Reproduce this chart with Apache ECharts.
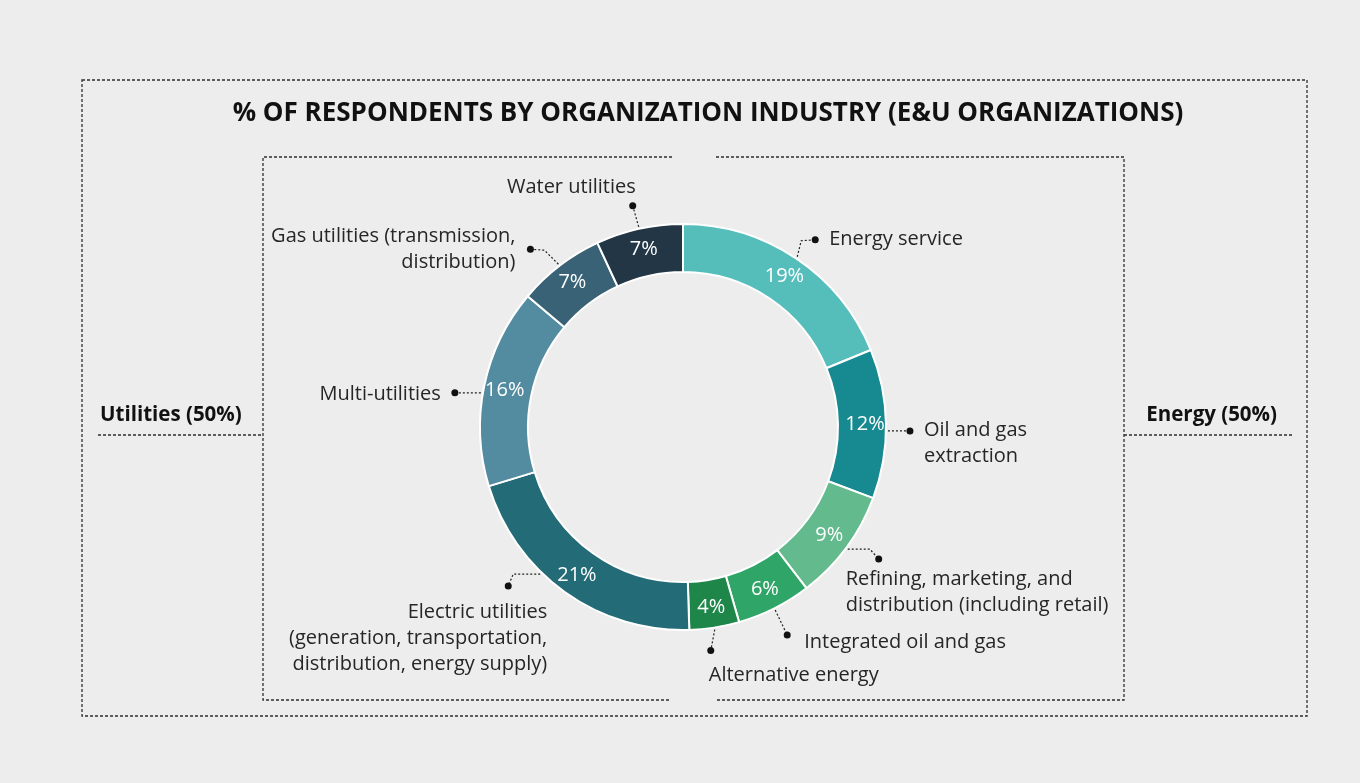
<!DOCTYPE html>
<html>
<head>
<meta charset="utf-8">
<title>E&amp;U respondents by industry</title>
<script src="https://cdn.jsdelivr.net/npm/echarts@6/dist/echarts.min.js"></script>
<style>
  html, body { margin: 0; padding: 0; background: #ededed; }
  #container { width: 1360px; height: 783px; }
</style>
</head>
<body>
<div id="container"></div>
<script>
// ---- data ----
var industries = [
  "Energy service",
  "Oil and gas\nextraction",
  "Refining, marketing, and\ndistribution (including retail)",
  "Integrated oil and gas",
  "Alternative energy",
  "Electric utilities\n(generation, transportation,\ndistribution, energy supply)",
  "Multi-utilities",
  "Gas utilities (transmission,\ndistribution)",
  "Water utilities"
];
var shares = [19, 12, 9, 6, 4, 21, 16, 7, 7];
var groupLabels = ["Utilities (50%)", "Energy (50%)"];
var chartTitle = "% OF RESPONDENTS BY ORGANIZATION INDUSTRY (E&U ORGANIZATIONS)";

// ---- styles / layout ----
var sliceColors = ["#55bebb", "#168a90", "#63ba8d", "#2fa567", "#1f864a",
                   "#236b76", "#538ca0", "#3a6276", "#223645"];
var FONT = "Open Sans";
var CX = 683, CY = 427, R_IN = 155, R_OUT = 203;

// leader line shape for each slice (offsets from the anchor on the ring edge)
var leaders = [
  { bend: [4, -16], end: [18, -17], lbl: [14, 0], align: "left", va: "middle" },
  { da: 2, end: [22, 0], lbl: [14, -14], align: "left", va: "top" },
  { bend: [22, 0], end: [31, 10], lbl: [-33, 7], align: "left", va: "top" },
  { end: [12, 25], lbl: [17, 7], align: "left", va: "middle" },
  { end: [-4, 21], lbl: [-2, 25], align: "left", va: "middle" },
  { da: 8.5, bend: [-27, 0], end: [-32, 12], lbl: [39, 13], align: "right", va: "top" },
  { da: -2, end: [-26, 0], lbl: [-14, 1], align: "right", va: "middle" },
  { bend: [-14, -14], end: [-28, -15], lbl: [-15, -26], align: "right", va: "top" },
  { end: [-6, -21], lbl: [3, -19], align: "right", va: "middle" }
];

var total = shares.reduce(function (a, b) { return a + b; }, 0);
var acc = 0;
var anchors = shares.map(function (v, i) {
  var deg = (acc + v / 2) / total * 360 + (leaders[i].da || 0);
  acc += v;
  var a = deg * Math.PI / 180, r = R_OUT + 2;
  return [CX + r * Math.sin(a), CY - r * Math.cos(a)];
});
function off(p, d) { return [p[0] + d[0], p[1] + d[1]]; }

var graphics = [];
var dash = { stroke: "#2e2e2e", lineWidth: 1.3, lineDash: [3, 2], fill: null };
function dashed(points) {
  return { type: "polyline", silent: true, shape: { points: points }, style: dash };
}
// frames
graphics.push({ type: "rect", silent: true, shape: { x: 82, y: 80, width: 1225, height: 636 }, style: dash });
graphics.push(dashed([[672, 157], [263, 157], [263, 700], [671, 700]]));
graphics.push(dashed([[716, 157], [1124, 157], [1124, 700], [716, 700]]));
graphics.push(dashed([[98, 435], [263, 435]]));
graphics.push(dashed([[1124, 435], [1293, 435]]));
graphics.push({ type: "text", silent: true, x: 100, y: 415,
  style: { text: groupLabels[0], font: "bold 20.5px '" + FONT + "'", fill: "#111", textAlign: "left", textVerticalAlign: "middle" } });
graphics.push({ type: "text", silent: true, x: 1277, y: 415,
  style: { text: groupLabels[1], font: "bold 20.5px '" + FONT + "'", fill: "#111", textAlign: "right", textVerticalAlign: "middle" } });

// leader lines with end dots
leaders.forEach(function (l, i) {
  var p0 = anchors[i];
  var pts = [p0];
  if (l.bend) pts.push(off(p0, l.bend));
  var e = off(p0, l.end);
  pts.push(e);
  graphics.push({ type: "polyline", silent: true, shape: { points: pts },
    style: { stroke: "#222", lineWidth: 1.2, lineDash: [2, 2], fill: null } });
  graphics.push({ type: "circle", silent: true, shape: { cx: e[0], cy: e[1], r: 3.5 }, style: { fill: "#111" } });
});

var pieData = industries.map(function (n, i) {
  return { name: n, value: shares[i], itemStyle: { color: sliceColors[i] } };
});

var chartDom = document.getElementById("container");
var myChart = echarts.init(chartDom);
var option = {
  backgroundColor: "#ededed",
  animation: false,
  title: {
    text: chartTitle,
    left: 703,
    top: 96,
    textAlign: "center",
    textStyle: { fontFamily: FONT, fontWeight: "bold", fontSize: 26, color: "#111" }
  },
  graphic: graphics,
  series: [
    {
      type: "pie",
      center: [CX, CY],
      radius: [R_IN, R_OUT],
      startAngle: 90,
      silent: true,
      itemStyle: { borderColor: "#ffffff", borderWidth: 2 },
      label: {
        show: true,
        position: "inside",
        formatter: function (p) { return p.value + "%"; },
        color: "#ffffff",
        fontFamily: FONT,
        fontSize: 20
      },
      labelLine: { show: false },
      data: pieData
    },
    {
      type: "pie",
      center: [CX, CY],
      radius: [R_IN, R_OUT],
      startAngle: 90,
      silent: true,
      avoidLabelOverlap: false,
      itemStyle: { color: "rgba(0,0,0,0)" },
      label: {
        show: true,
        position: "outside",
        formatter: "{b}",
        color: "#262626",
        fontFamily: FONT,
        fontSize: 20,
        lineHeight: 26
      },
      labelLine: { show: false },
      labelLayout: function (params) {
        var l = leaders[params.dataIndex];
        var e = off(anchors[params.dataIndex], l.end);
        var p = off(e, l.lbl);
        return { x: p[0], y: p[1], align: l.align, verticalAlign: l.va, hideOverlap: false };
      },
      data: industries.map(function (n, i) { return { name: n, value: shares[i] }; })
    }
  ]
};
option && myChart.setOption(option);
</script>
</body>
</html>
